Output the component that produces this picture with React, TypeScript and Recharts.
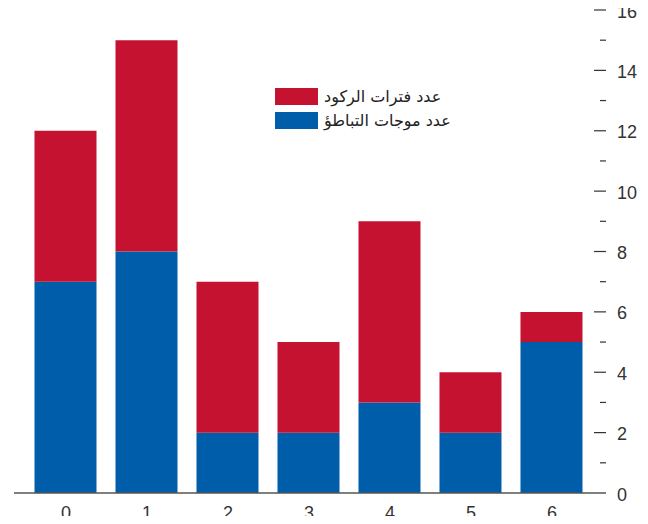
import { Bar, BarChart, XAxis, YAxis } from 'recharts';

const categories = [0, 1, 2, 3, 4, 5, 6];
const slowdownWaves = [7, 8, 2, 2, 3, 2, 5];
const recessions = [5, 7, 5, 3, 6, 2, 1];
const yTicks = [0, 1, 2, 3, 4, 5, 6, 7, 8, 9, 10, 11, 12, 13, 14, 15, 16];
const legendLabels = ['عدد فترات الركود', 'عدد موجات التباطؤ'];

const RED = '#c41230';
const BLUE = '#005daa';
const INK = '#333';
const FONT = '"Liberation Sans Narrow", "Arial Narrow", "Liberation Sans", sans-serif';

const data = categories.map((c, i) => ({ cat: c, slow: slowdownWaves[i], rec: recessions[i] }));

const LeftTick = ({ x, y, payload }: any) => {
  const major = payload.value % 2 === 0;
  if (payload.value === 0) return <g />;
  return <line x1={x} x2={x + (major ? 12 : 6)} y1={y} y2={y} stroke={INK} strokeWidth={1.2} />;
};

const RightTick = ({ x, y, payload }: any) => {
  const major = payload.value % 2 === 0;
  return (
    <g>
      {payload.value !== 0 && (
        <line x1={x - (major ? 12 : 6)} x2={x} y1={y} y2={y} stroke={INK} strokeWidth={1.2} />
      )}
      {major && (
        <text x={x + 11} y={y + 7.5} fontSize={18} fill={INK} fontFamily={FONT} textAnchor="start">
          {payload.value}
        </text>
      )}
    </g>
  );
};

const BottomTick = ({ x, y, payload }: any) => (
  <text x={x} y={y + 26} fontSize={18} fill={INK} fontFamily={FONT} textAnchor="middle">
    {payload.value}
  </text>
);

const LegendBox = () => (
  <div style={{ position: 'absolute', left: 275, top: 88, display: 'flex', flexDirection: 'column', gap: 7 }}>
    {[RED, BLUE].map((c, i) => (
      <div key={c} style={{ display: 'flex', alignItems: 'center', gap: 6 }}>
        <div style={{ width: 43, height: 17, background: c }} />
        <span dir="rtl" style={{ fontSize: 16, lineHeight: '17px', color: '#222', fontFamily: '"DejaVu Sans", sans-serif' }}>
          {legendLabels[i]}
        </span>
      </div>
    ))}
  </div>
);

export default function App() {
  return (
    <div style={{ position: 'relative', margin: -8, width: 648, height: 524, fontFamily: FONT }}>
      <BarChart width={648} height={524} data={data} margin={{ top: 10, right: 0, bottom: 0, left: 0 }}>
        <XAxis
          dataKey="cat"
          type="number"
          domain={[-0.642, 6.667]}
          ticks={categories}
          tickLine={false}
          tickSize={0}
          tickMargin={0}
          height={31}
          stroke="#555"
          strokeWidth={1.5}
          tick={<BottomTick />}
          allowDataOverflow
        />
        <YAxis
          yAxisId="left"
          orientation="left"
          width={14}
          domain={[0, 16]}
          ticks={yTicks}
          interval={0}
          axisLine={false}
          tickLine={false}
          tickSize={0}
          tickMargin={0}
          tick={<LeftTick />}
        />
        <YAxis
          yAxisId="right"
          orientation="right"
          width={42}
          domain={[0, 16]}
          ticks={yTicks}
          interval={0}
          axisLine={false}
          tickLine={false}
          tickSize={0}
          tickMargin={0}
          tick={<RightTick />}
        />
        <Bar dataKey="slow" stackId="a" yAxisId="right" fill={BLUE} barSize={62} isAnimationActive={false} />
        <Bar dataKey="rec" stackId="a" yAxisId="right" fill={RED} barSize={62} isAnimationActive={false} />
      </BarChart>
      <LegendBox />
    </div>
  );
}
